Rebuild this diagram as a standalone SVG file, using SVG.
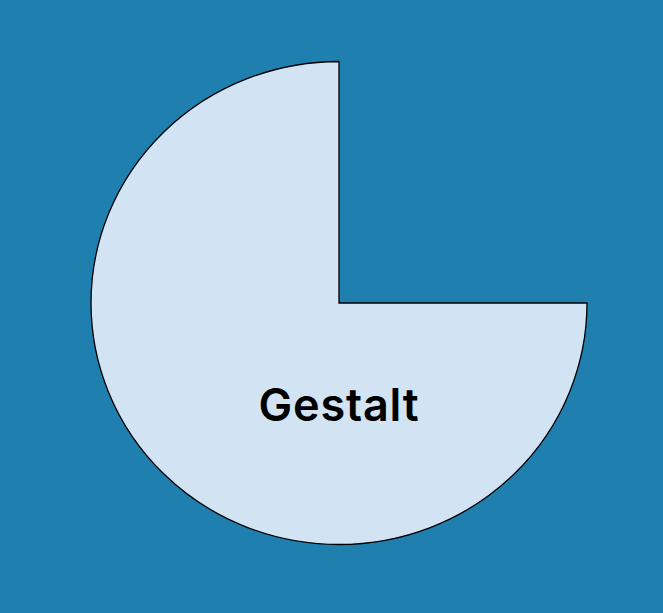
<svg xmlns="http://www.w3.org/2000/svg" width="663" height="613" viewBox="0 0 663 613">
<style>
.bg{fill:#1f80b0}
.pie{fill:#d2e3f3;stroke:#000;stroke-width:1.3}
.lbl{font-family:Inter,"Noto Sans",sans-serif;font-weight:600;font-size:45px;letter-spacing:0.8px;fill:#000;text-anchor:middle}
</style>
<rect class="bg" x="0" y="0" width="663" height="613"/>
<g id="gestalt">
<path class="pie" d="M339,303 L339,61.5 A248,241.5 0 1 0 587,303 Z"/>
<text class="lbl" x="339" y="421">Gestalt</text>
</g>
</svg>
